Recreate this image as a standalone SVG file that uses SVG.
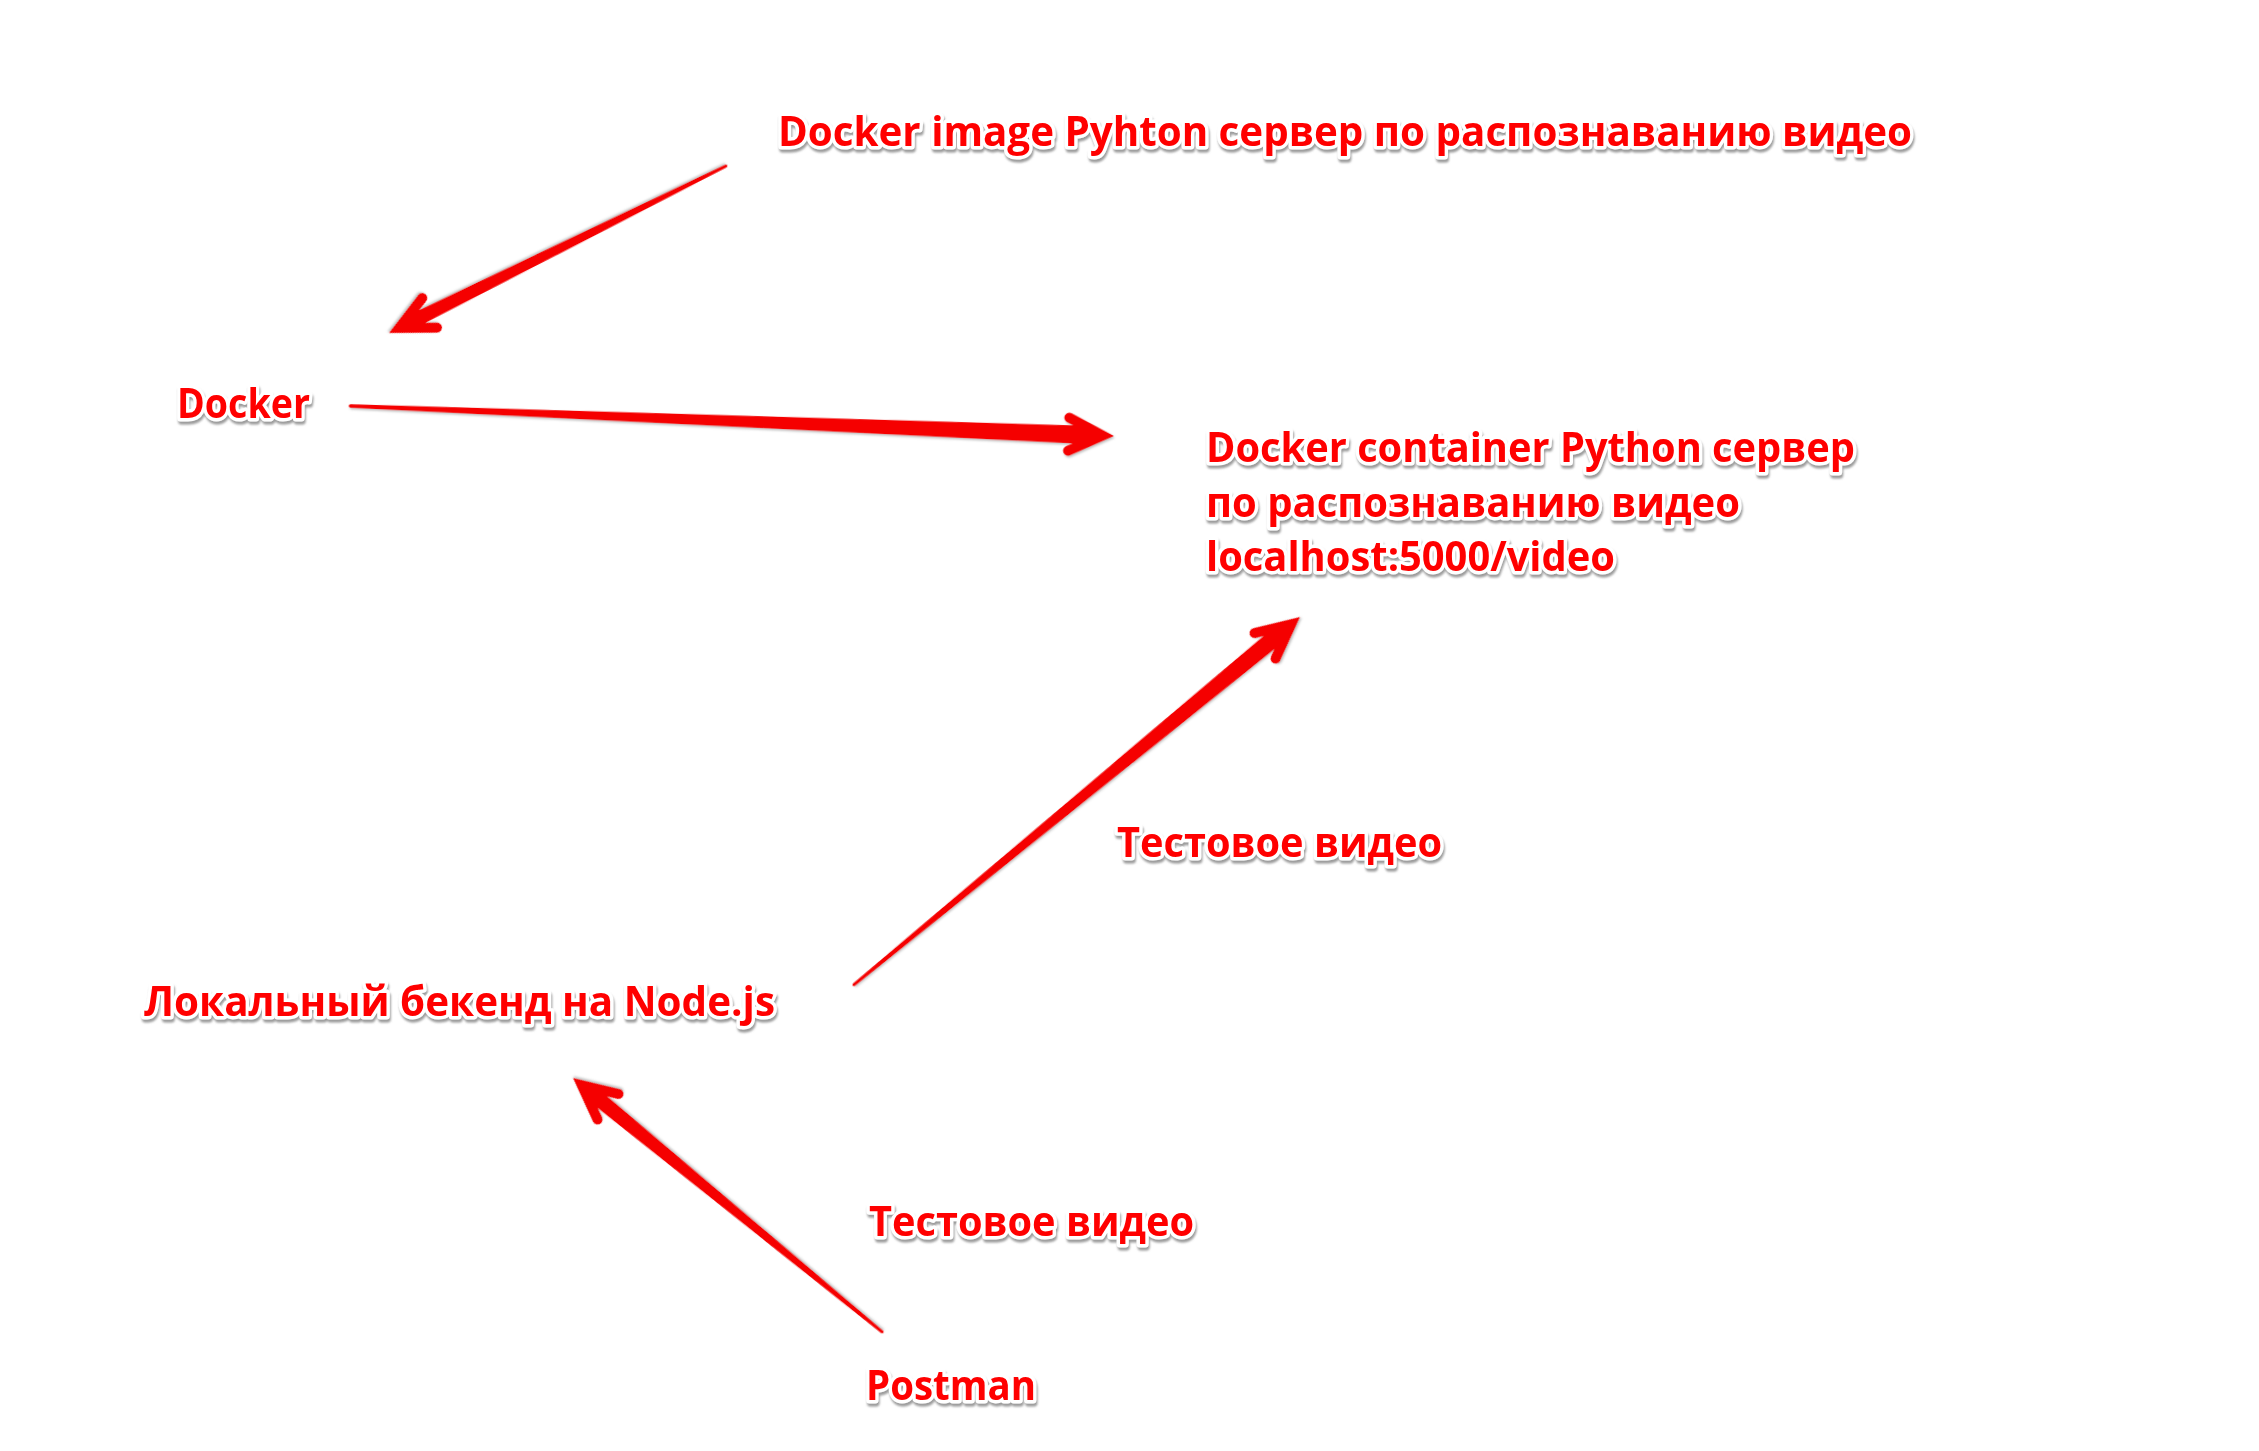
<svg xmlns="http://www.w3.org/2000/svg" width="2259" height="1451" viewBox="0 0 2259 1451">
  <defs>
    <filter id="tshadow" x="-5%" y="-30%" width="110%" height="160%">
      <feDropShadow dx="1" dy="3" stdDeviation="1" flood-color="#8a8a8a" flood-opacity="0.85"/>
    </filter>
    <filter id="ashadow" x="-5%" y="-10%" width="110%" height="120%">
      <feDropShadow dx="1" dy="1.5" stdDeviation="0.8" flood-color="#666" flood-opacity="0.45"/>
    </filter>
  </defs>
  <style>
    .lbl { font-family: "Open Sans", "Noto Sans", "Liberation Sans", sans-serif; font-weight: 700; font-size: 41px; fill: #ff0000; stroke: #ffffff; stroke-width: 7px; stroke-linejoin: round; paint-order: stroke; filter: url(#tshadow); }
    .big { font-size: 42px; }
    .arrow { fill: #f50000; filter: url(#ashadow); }
  </style>
  <rect x="0" y="0" width="2259" height="1451" fill="#ffffff"/>

  <g id="connectors">
    <path class="arrow" transform="translate(389,333) rotate(153.64)" d="M 0 0 L -43.1 -21.1 A 5 5 0 0 0 -47.5 -12.1 L -37.1 -7 L -376 -1.5 A 1.5 1.5 0 0 0 -376 1.5 L -37.1 7 L -47.5 12.1 A 5 5 0 0 0 -43.1 21.1 Z"/>
    <path class="arrow" transform="translate(1114,436) rotate(2.25)" d="M 0 0 L -43.1 -21.1 A 5 5 0 0 0 -47.5 -12.1 L -41.2 -9 L -764 -1.8 A 1.8 1.8 0 0 0 -764 1.8 L -41.2 9 L -47.5 12.1 A 5 5 0 0 0 -43.1 21.1 Z"/>
    <path class="arrow" transform="translate(1300,617) rotate(-39.5)" d="M 0 0 L -43.1 -21.1 A 5 5 0 0 0 -47.5 -12.1 L -40.1 -8.5 L -578 -1.6 A 1.6 1.6 0 0 0 -578 1.6 L -40.1 8.5 L -47.5 12.1 A 5 5 0 0 0 -43.1 21.1 Z"/>
    <path class="arrow" transform="translate(573,1078) rotate(-140.6)" d="M 0 0 L -43.1 -21.1 A 5 5 0 0 0 -47.5 -12.1 L -38.1 -7.5 L -400 -1.5 A 1.5 1.5 0 0 0 -400 1.5 L -38.1 7.5 L -47.5 12.1 A 5 5 0 0 0 -43.1 21.1 Z"/>
  </g>

  <g id="node-docker-image">
    <text class="lbl big" x="778" y="146" textLength="1134" lengthAdjust="spacingAndGlyphs">Docker image Pyhton сервер по распознаванию видео</text>
  </g>
  <g id="node-docker">
    <text class="lbl big" x="177" y="418" textLength="133" lengthAdjust="spacingAndGlyphs">Docker</text>
  </g>
  <g id="node-docker-container">
    <text class="lbl" x="1206" y="462" textLength="649" lengthAdjust="spacingAndGlyphs">Docker container Python сервер</text>
    <text class="lbl" x="1206" y="517" textLength="534" lengthAdjust="spacingAndGlyphs">по распознаванию видео</text>
    <text class="lbl" x="1206" y="571" textLength="409" lengthAdjust="spacingAndGlyphs">localhost:5000/video</text>
  </g>
  <g id="label-test-video-1">
    <text class="lbl" x="1117" y="857" textLength="325" lengthAdjust="spacingAndGlyphs">Тестовое видео</text>
  </g>
  <g id="node-local-backend">
    <text class="lbl big" x="144" y="1016" textLength="631" lengthAdjust="spacingAndGlyphs">Локальный бекенд на Node.js</text>
  </g>
  <g id="label-test-video-2">
    <text class="lbl" x="869" y="1236" textLength="325" lengthAdjust="spacingAndGlyphs">Тестовое видео</text>
  </g>
  <g id="node-postman">
    <text class="lbl" x="866" y="1400" textLength="170" lengthAdjust="spacingAndGlyphs">Postman</text>
  </g>
</svg>
